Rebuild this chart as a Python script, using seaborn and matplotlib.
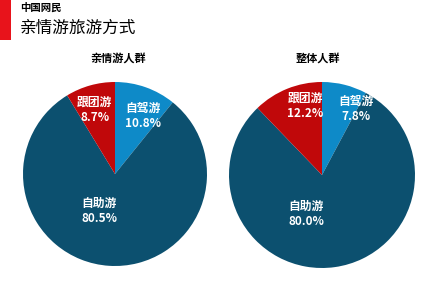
import matplotlib
matplotlib.use("Agg")
import matplotlib.pyplot as plt
import seaborn as sns
import numpy as np
from matplotlib.patches import Rectangle

sns.set_theme(style="white")
plt.rcParams['font.family'] = ['Noto Sans CJK SC', 'DejaVu Sans']

categories = ["自驾游", "自助游", "跟团游"]
family_values = [10.8, 80.5, 8.7]
overall_values = [7.8, 80.0, 12.2]
group_titles = ["亲情游人群", "整体人群"]
colors = sns.color_palette(["#0e8ac8", "#0c506f", "#c0080a"])

# label positions (unit-radius coordinates) per category for each pie
label_pos = [
    [(0.30, -0.63), (-0.17, 0.40), (-0.22, -0.70)],
    [(0.36, -0.71), (-0.17, 0.42), (-0.18, -0.74)],
]

W, H = 429, 287
fig = plt.figure(figsize=(W / 100, H / 100), dpi=100)

# red bar and titles
fig.add_artist(Rectangle((0, 1 - 40 / H), 11 / W, 40 / H, transform=fig.transFigure,
                         color="#e8131b", lw=0))
fig.text(20 / W, 1 - 8 / H, "中国网民", fontsize=7.5, fontweight="bold", va="center", ha="left", color="black")
fig.text(20 / W, 1 - 28 / H, "亲情游旅游方式", fontsize=12, va="center", ha="left", color="black")

centers = [(115, 174, 92), (322, 175, 93)]
datasets = [family_values, overall_values]
title_x = [118, 318]

for i, ((cx, cy, r), vals) in enumerate(zip(centers, datasets)):
    ax = fig.add_axes([(cx - r) / W, 1 - (cy + r) / H, 2 * r / W, 2 * r / H])
    ax.pie(vals, colors=colors, startangle=90, counterclock=False, radius=1,
           wedgeprops=dict(linewidth=0))
    ax.set_xlim(-1, 1)
    ax.set_ylim(-1, 1)
    ax.set_aspect("equal")
    ax.axis("off")
    for cat, v, (lx, ly) in zip(categories, vals, label_pos[i]):
        ax.text(lx, -ly, f"{cat}\n{v:.1f}%", ha="center", va="center", color="white",
                fontsize=8.5, fontweight="bold", linespacing=1.25)
    fig.text(title_x[i] / W, 1 - 58 / H, group_titles[i], fontsize=8, fontweight="bold",
             ha="center", va="center", color="black")

fig.savefig("out.png", dpi=100)
